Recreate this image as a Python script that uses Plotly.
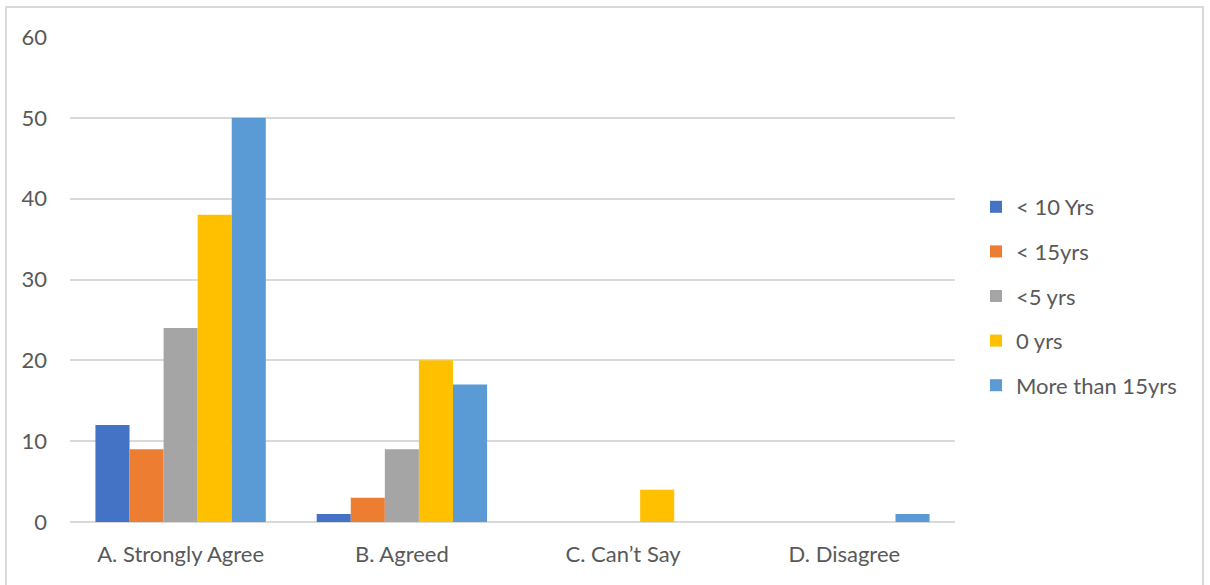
import plotly.graph_objects as go

categories = ["A. Strongly Agree", "B. Agreed", "C. Can\u2019t Say", "D. Disagree"]
series_names = ["< 10 Yrs", "< 15yrs", "<5 yrs", "0 yrs", "More than 15yrs"]
lt10_yrs = [12, 1, 0, 0]
lt15_yrs = [9, 3, 0, 0]
lt5_yrs = [24, 9, 0, 0]
zero_yrs = [38, 20, 4, 0]
gt15_yrs = [50, 17, 0, 1]
y_ticks = [0, 10, 20, 30, 40, 50, 60]

series_values = [lt10_yrs, lt15_yrs, lt5_yrs, zero_yrs, gt15_yrs]
colors = ["#4472C4", "#ED7D31", "#A5A5A5", "#FFC000", "#5B9BD5"]

FONT = "Lato"
SIZE = 22
TEXT = "#595959"

fig = go.Figure()
for i, (name, vals, col) in enumerate(zip(series_names, series_values, colors)):
    fig.add_trace(go.Bar(
        x=categories, y=vals, name=name,
        marker=dict(color=col, line=dict(width=0)),
        legendgroup=f"g{i}",
    ))

W, H = 1210, 585
L, R, T, B = 70, 255, 37, 63
pw, ph = W - L - R, H - T - B

fig.update_layout(
    width=W, height=H,
    margin=dict(l=L, r=R, t=T, b=B, autoexpand=False),
    paper_bgcolor="white", plot_bgcolor="white",
    barmode="group", bargap=0.23, bargroupgap=0,
    font=dict(family=FONT, size=SIZE, color=TEXT),
    showlegend=True,
    legend=dict(
        x=1.0 + (976 - 955) / pw, xanchor="left",
        y=(522 - 186) / ph, yanchor="top",
        font=dict(family=FONT, size=SIZE, color=TEXT),
        tracegroupgap=13, itemwidth=30,
        traceorder="grouped",
        bgcolor="rgba(0,0,0,0)",
    ),
    xaxis=dict(
        showgrid=False, showline=False, zeroline=False,
        ticks="", tickfont=dict(family=FONT, size=SIZE, color=TEXT),
        ticklabelstandoff=17,
    ),
    yaxis=dict(
        range=[0, 60], tickvals=y_ticks,
        showgrid=True, gridcolor="#D9D9D9", gridwidth=1.5,
        zeroline=True, zerolinecolor="#D9D9D9", zerolinewidth=1.5,
        showline=False, ticks="",
        tickfont=dict(family=FONT, size=SIZE, color=TEXT),
        ticklabelstandoff=22,
    ),
    shapes=[dict(
        type="rect", xref="paper", yref="paper", layer="below",
        x0=(6 - L) / pw, x1=(1203 - L) / pw,
        y0=-(600 - (H - B)) / ph, y1=(H - B - 7) / ph,
        line=dict(color="#D9D9D9", width=2), fillcolor="rgba(0,0,0,0)",
    )],
)

fig.write_html("out.html")
